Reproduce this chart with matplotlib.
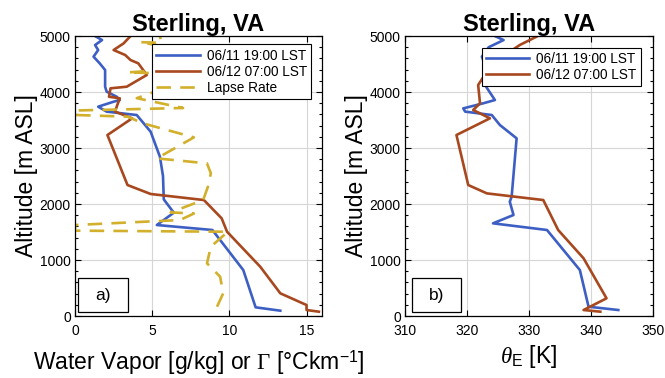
import numpy as np
import matplotlib.pyplot as plt
from matplotlib.ticker import MultipleLocator
from matplotlib.patches import Rectangle

plt.rcParams['font.family'] = ['Liberation Sans', 'DejaVu Sans']
plt.rcParams['mathtext.fontset'] = 'custom'
plt.rcParams['mathtext.rm'] = 'Liberation Serif'
plt.rcParams['mathtext.sf'] = 'Liberation Sans'
plt.rcParams['mathtext.it'] = 'Liberation Serif:italic'

# ---- datos ----
# a) vapor de agua [g/kg] y gradiente termico
wv_1119_x = [13.3, 11.7, 10.9, 8.9, 5.3, 6.4, 5.75, 5.7, 5.5, 4.9, 4.0, 2.05, 1.5, 2.5,
             2.9, 2.7, 2.05, 1.95, 1.95, 1.6, 1.2, 1.5, 1.3, 1.75, 1.3]
wv_1119_y = [95, 155, 821, 1536, 1625, 1845, 2083, 2500, 2845, 3291, 3589, 3650, 3738, 3827,
             3857, 3916, 4006, 4095, 4393, 4512, 4631, 4750, 4839, 4928, 5000]

wv_1207_x = [15.8, 15.0, 15.0, 13.3, 12.0, 9.85, 9.5, 8.35, 4.9, 3.4, 2.1, 3.7, 2.6, 2.7,
             2.9, 2.2, 2.3, 3.35, 4.65, 4.1, 3.6, 3.25, 2.5, 3.15, 3.6]
wv_1207_y = [77, 107, 196, 405, 880, 1505, 1744, 2071, 2179, 2339, 3232, 3530, 3650, 3738,
             3887, 3916, 4066, 4095, 4304, 4512, 4571, 4661, 4750, 4869, 5000]

lapse_x = [9.2, 9.6, 9.4, 8.55, 8.8, 9.9, 0.0, 0.0, 6.8, 7.7, 6.2, 8.3, 8.6, 8.8, 8.55,
           5.3, 7.7, 4.4, 3.4, 0.0, 0.0, 7.0, 4.0, 5.6, 6.0, 3.4, 5.6, 6.5, 4.2, 5.6, 5.5]
lapse_y = [166, 405, 702, 941, 1238, 1505, 1524, 1625, 1714, 1830, 1850, 2071, 2300, 2548, 2726,
           2815, 3190, 3441, 3560, 3590, 3670, 3715, 3890, 4050, 4330, 4350, 4390, 4780, 4890, 4880, 5000]

# b) temperatura potencial equivalente [K]
te_1119_x = [344.4, 339.6, 338.2, 332.9, 324.2, 327.5, 326.9, 327.2, 328.0, 325.3, 324.0,
             319.7, 319.4, 322.6, 324.5, 322.9, 323.2, 322.4, 323.5, 325.9, 324.5]
te_1119_y = [107, 166, 821, 1536, 1655, 1804, 2041, 2130, 3173, 3411, 3589,
             3650, 3708, 3798, 3857, 4125, 4393, 4631, 4800, 4928, 5000]

te_1207_x = [341.5, 338.8, 342.5, 338.8, 334.7, 332.3, 323.2, 320.2, 318.3, 323.7, 321.0,
             322.1, 321.8, 324.0, 328.5, 331.2]
te_1207_y = [77, 107, 316, 1030, 1536, 2071, 2190, 2339, 3232, 3530, 3679,
             3798, 4125, 4500, 4839, 4988]

lbl_1 = '06/11 19:00 LST'
lbl_2 = '06/12 07:00 LST'

c_azul = '#3d5fc4'
c_rojo = '#a8481e'
c_amar = '#d2b02c'

fig = plt.figure(figsize=(6.65, 3.78), dpi=100)
ax1 = fig.add_axes([0.1128, 0.164, 0.3714, 0.7407])
ax2 = fig.add_axes([0.609, 0.164, 0.373, 0.7407])


def estilo(ax):
    ax.set_ylim(0, 5000)
    ax.yaxis.set_major_locator(MultipleLocator(1000))
    ax.yaxis.set_minor_locator(MultipleLocator(200))
    ax.tick_params(which='both', direction='in', top=True, right=True, labelsize=10,
                   width=0.8)
    ax.tick_params(axis='x', pad=6)
    ax.tick_params(axis='y', pad=3)
    ax.tick_params(which='major', length=4)
    ax.tick_params(which='minor', length=2.5)
    ax.grid(True, which='major', color='#d6d6d6', linewidth=0.8)
    ax.set_axisbelow(True)
    for s in ax.spines.values():
        s.set_linewidth(0.9)
    ax.set_title('Sterling, VA', fontsize=17, fontweight='bold', pad=3)
    ax.set_ylabel('Altitude [m ASL]', fontsize=16.5, labelpad=1)


def caja(ax, txt, x0, x1):
    # recuadro de la etiqueta del panel
    ax.add_patch(Rectangle((x0, 0.014), x1 - x0, 0.122, transform=ax.transAxes,
                           fc='white', ec='black', lw=0.9, zorder=5))
    ax.text((x0 + x1) / 2, 0.075, txt, transform=ax.transAxes, fontsize=12.5,
            ha='center', va='center', zorder=6)


# panel a)
ax1.plot(wv_1119_x, wv_1119_y, color=c_azul, lw=1.9, label=lbl_1)
ax1.plot(wv_1207_x, wv_1207_y, color=c_rojo, lw=1.9, label=lbl_2)
ax1.plot(lapse_x, lapse_y, color=c_amar, lw=1.9, ls=(0, (5.5, 3.5)), label='Lapse Rate')
ax1.set_xlim(0, 16)
ax1.xaxis.set_major_locator(MultipleLocator(5))
estilo(ax1)
ax1.set_xlabel('Water Vapor [g/kg] or $\\Gamma$ [°Ckm$^{\\mathsf{-1}}$]', fontsize=16.5,
               labelpad=7)
leg1 = ax1.legend(loc='upper right', bbox_to_anchor=(0.955, 0.97), fontsize=9.8,
                  fancybox=False, edgecolor='black', framealpha=1, handlelength=3.2,
                  borderpad=0.3, labelspacing=0.15, handletextpad=0.5, borderaxespad=0)
leg1.get_frame().set_linewidth(0.8)
caja(ax1, 'a)', 0.012, 0.215)

# panel b)
ax2.plot(te_1119_x, te_1119_y, color=c_azul, lw=1.9, label=lbl_1)
ax2.plot(te_1207_x, te_1207_y, color=c_rojo, lw=1.9, label=lbl_2)
ax2.set_xlim(310, 350)
ax2.xaxis.set_major_locator(MultipleLocator(10))
estilo(ax2)
ax2.set_xlabel('$\\mathit{\\theta}_{\\mathsf{E}}$ [K]', fontsize=16.5, labelpad=3)
leg2 = ax2.legend(loc='upper right', bbox_to_anchor=(0.95, 0.958), fontsize=9.8,
                  fancybox=False, edgecolor='black', framealpha=1, handlelength=3.2,
                  borderpad=0.3, labelspacing=0.15, handletextpad=0.5, borderaxespad=0)
leg2.get_frame().set_linewidth(0.8)
caja(ax2, 'b)', 0.027, 0.226)

plt.savefig('out.png', dpi=100)
